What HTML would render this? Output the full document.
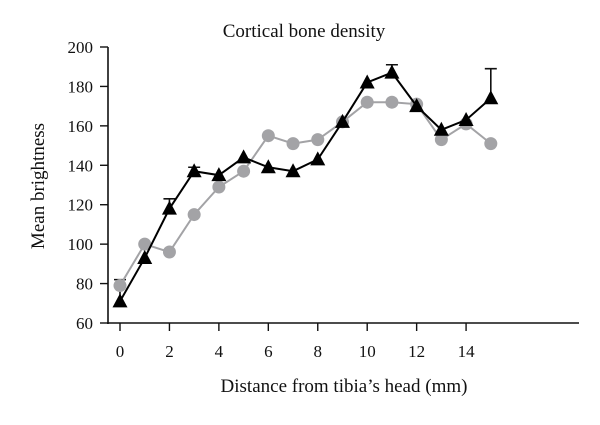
<!DOCTYPE html>
<html><head><meta charset="utf-8"><style>
body{margin:0;background:#fff}
svg text{font-family:"Liberation Serif",serif;fill:#111}
</style></head><body>
<svg width="600" height="420" viewBox="0 0 600 420">
<text x="304" y="37" font-size="19" text-anchor="middle">Cortical bone density</text>
<g id="axes"></g>
<g id="series"></g>
<text x="344" y="392" font-size="19" text-anchor="middle">Distance from tibia’s head (mm)</text>
<text transform="translate(44,186) rotate(-90)" font-size="19" text-anchor="middle">Mean brightness</text>
</svg>
<script>
const xs=[0,1,2,3,4,5,6,7,8,9,10,11,12,13,14,15];
const grayVals=[79,100,96,115,129,137,155,151,153,162,172,172,171,153,161,151];
const blackVals=[71,93,118,137,135,144,139,137,143,162,182,187,170,158,163,174];
const blackErr=[11,0,5,2,0,0,0,0,0,0,0,4,0,0,0,15];
const yTicks=[60,80,100,120,140,160,180,200];
const xTicks=[0,2,4,6,8,10,12,14];
const NS="http://www.w3.org/2000/svg";
const X=v=>120+v*24.72;
const Y=v=>323-(v-60)*(276/140);
function mk(tag,attrs,parent){const e=document.createElementNS(NS,tag);for(const k in attrs)e.setAttribute(k,attrs[k]);parent.appendChild(e);return e;}
const ax=document.getElementById('axes'), se=document.getElementById('series');
let l=mk('line',{x1:108,y1:Y(200),x2:108,y2:324,stroke:'#111','stroke-width':1.6},ax);


l=mk('line',{x1:107,y1:323,x2:579,y2:323,stroke:'#111','stroke-width':1.6},ax);


yTicks.forEach(t=>{
 const tk=mk('line',{x1:100,y1:Y(t),x2:108,y2:Y(t),stroke:'#111','stroke-width':1.4},ax);
 
 
 const tx=mk('text',{x:93,y:Y(t)+6,'font-size':17,'text-anchor':'end'},ax);tx.textContent=t;
 
 
});
xTicks.forEach(t=>{
 const tk=mk('line',{x1:X(t),y1:323,x2:X(t),y2:331,stroke:'#111','stroke-width':1.4},ax);
 
 
 const tx=mk('text',{x:X(t),y:357,'font-size':17,'text-anchor':'middle'},ax);tx.textContent=t;
 
 
});
// error bars
xs.forEach((x,i)=>{ if(blackErr[i]>0){
 const top=Y(blackVals[i]+blackErr[i]);
 const e=mk('path',{d:`M${X(x)},${Y(blackVals[i])}V${top}M${X(x)-6},${top}H${X(x)+6}`,stroke:'#111','stroke-width':1.6,fill:'none'},se);
 
 
}});
let p=mk('polyline',{points:xs.map((x,i)=>X(x)+','+Y(grayVals[i])).join(' '),fill:'none',stroke:'#a3a3a6','stroke-width':2},se);


xs.forEach((x,i)=>{const c=mk('circle',{cx:X(x),cy:Y(grayVals[i]),r:6.5,fill:'#a3a3a6'},se);
 
 });
p=mk('polyline',{points:xs.map((x,i)=>X(x)+','+Y(blackVals[i])).join(' '),fill:'none',stroke:'#000','stroke-width':2},se);


xs.forEach((x,i)=>{const cx=X(x),cy=Y(blackVals[i]);
 const t=mk('path',{d:`M${cx},${cy-8}L${cx+7.5},${cy+6}L${cx-7.5},${cy+6}Z`,fill:'#000'},se);
 
 });
</script>
</body></html>
